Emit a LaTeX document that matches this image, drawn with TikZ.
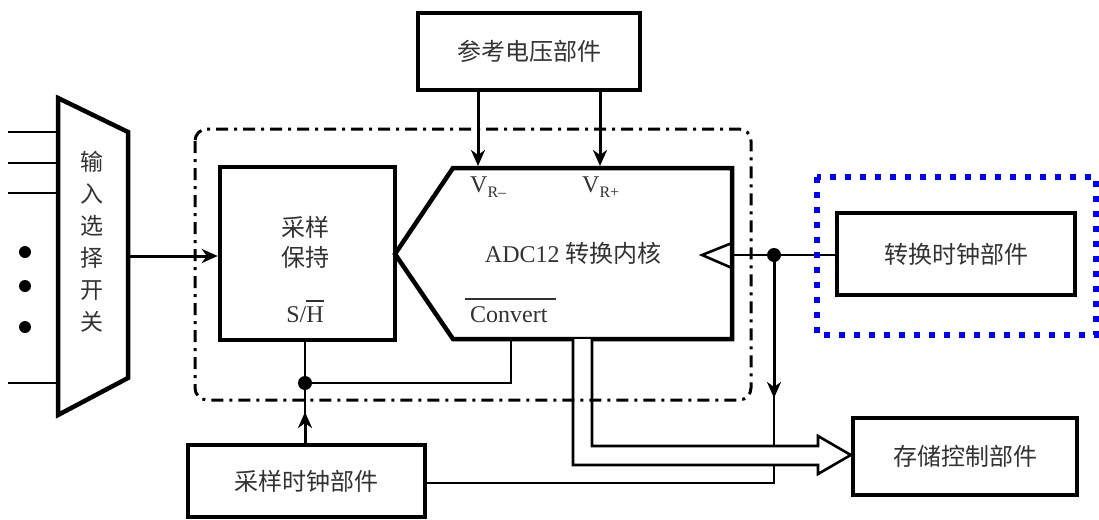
\documentclass[tikz,border=0pt]{standalone}
\usepackage{fontspec}
\setmainfont{Liberation Serif}
\newfontfamily\cjk{Noto Sans CJK SC}
\usetikzlibrary{arrows.meta}
\definecolor{txt}{RGB}{50,50,50}
\definecolor{dotblue}{RGB}{0,0,255}
\newcommand{\ovbar}[2]{\vbox{\hrule height 2pt\kern #2\hbox{#1}}}
\begin{document}
\begin{tikzpicture}[x=1pt,y=-1pt,
  box/.style={draw, line width=4.5pt, inner sep=0pt, font=\fontsize{24}{28}\selectfont\cjk, text=txt},
  lbl/.style={inner sep=0pt, text=txt, font=\fontsize{24}{28}\selectfont\cjk},
  rml/.style={inner sep=0pt, text=txt, font=\fontsize{24}{28}\selectfont\rmfamily},
  thinl/.style={line width=2.6pt},
  arr/.style={line width=3pt, -{Stealth[length=16pt,width=14pt,inset=5pt]}},
  jdot/.style={fill=black},
]
\useasboundingbox (0,0) rectangle (1099,519);

% boxes
\node[box, minimum width=222pt, minimum height=77pt] (ref) at (529,51.5) {参考电压部件};
\node[box, minimum width=238pt, minimum height=82pt] (cc) at (956,254) {转换时钟部件};
\node[box, minimum width=224pt, minimum height=77pt] (st) at (965,456.5) {存储控制部件};
\node[box, minimum width=237pt, minimum height=72pt] (sc) at (306.5,481) {采样时钟部件};
\node[box, minimum width=175pt, minimum height=173pt] (sh) at (307.5,253.5) {};

% S/H texts
\node[lbl] (sh1) at (305,227) {采样};
\node[lbl] (sh2) at (305,257) {保持};
\node[rml, anchor=base] (shh) at (305,322) {S/\ovbar{H}{4pt}};

% input mux
\draw[line width=4.5pt, line join=miter] (58,98) -- (128,132) -- (128,378) -- (58,415) -- cycle;
\node[lbl, align=center, font=\fontsize{23}{32}\selectfont\cjk] (muxt) at (92,242) {输\\入\\选\\择\\开\\关};
\coordinate (in1) at (58,132);
\coordinate (in2) at (58,163);
\coordinate (in3) at (58,193);
\coordinate (in4) at (58,383);
\foreach \i in {1,2,3,4} \draw[thinl] (in\i) -- ++(-50,0);
\foreach \y in {252,286,327} \fill (25,\y) circle (6);

% ADC core
\draw[line width=4.5pt, line join=miter] (395,254) -- (453,168) -- (732,168) -- (732,339) -- (453,339) -- cycle;
\draw[thinl, line join=miter] (732,243) -- (702,255) -- (732,268);
\node[lbl] (adc) at (573,253) {{\rmfamily ADC12} 转换内核};
\node[rml, anchor=base west] (vrm) at (470,192) {V\raisebox{-5pt}{\fontsize{16}{16}\selectfont R–}};
\node[rml, anchor=base west] (vrp) at (582,192) {V\raisebox{-5pt}{\fontsize{16}{16}\selectfont R+}};
\node[rml, anchor=base west] (conv) at (465,322) {\ovbar{\kern5pt Convert\kern8pt}{6pt}};

\coordinate (vm) at (478,166);
\coordinate (vp) at (600,166);
\draw[arr] (ref.south -| vm) -- (vm);
\draw[arr] (ref.south -| vp) -- (vp);

% mux -> S/H
\coordinate (muxout) at (128,256);
\draw[arr] (muxout) -- (sh.west |- muxout);

% clock
\coordinate (clkin) at (732,255);
\coordinate (jc) at (774,255);
\coordinate (jb) at (774,483);
\draw[thinl] (clkin) -- (cc.west |- clkin);
\draw[thinl] (jc) -- (jb) -- (sc.east |- jb);
\draw[arr] (jc) -- (774,398);
\fill[jdot] (jc) circle (7);

% S/H control
\coordinate (jd) at (305,383);
\coordinate (cvb) at (511,339);
\draw[thinl] (sh.south -| jd) -- (jd) -- (jd -| cvb) -- (cvb);
\draw[thinl] (sc.north -| jd) -- (jd);
\draw[arr] (sc.north -| jd) -- (305,412);
\fill[jdot] (jd) circle (7);

% hollow data arrow
\filldraw[fill=white, line width=2.6pt, line join=miter]
  (573,339) -- (573,465) -- (818,465) -- (818,474) -- (st.west |- 0,455)
  -- (818,436) -- (818,446) -- (592,446) -- (592,339);

% dash-dot frame
\draw[line width=3pt, dash pattern=on 12pt off 6pt on 3pt off 6pt, rounded corners=12pt]
  (195,129) rectangle (751,400);

% blue dotted highlight
\draw[dotblue, line width=6pt, dash pattern=on 6pt off 9pt] (817,177) rectangle (1096,335);
\end{tikzpicture}
\end{document}
